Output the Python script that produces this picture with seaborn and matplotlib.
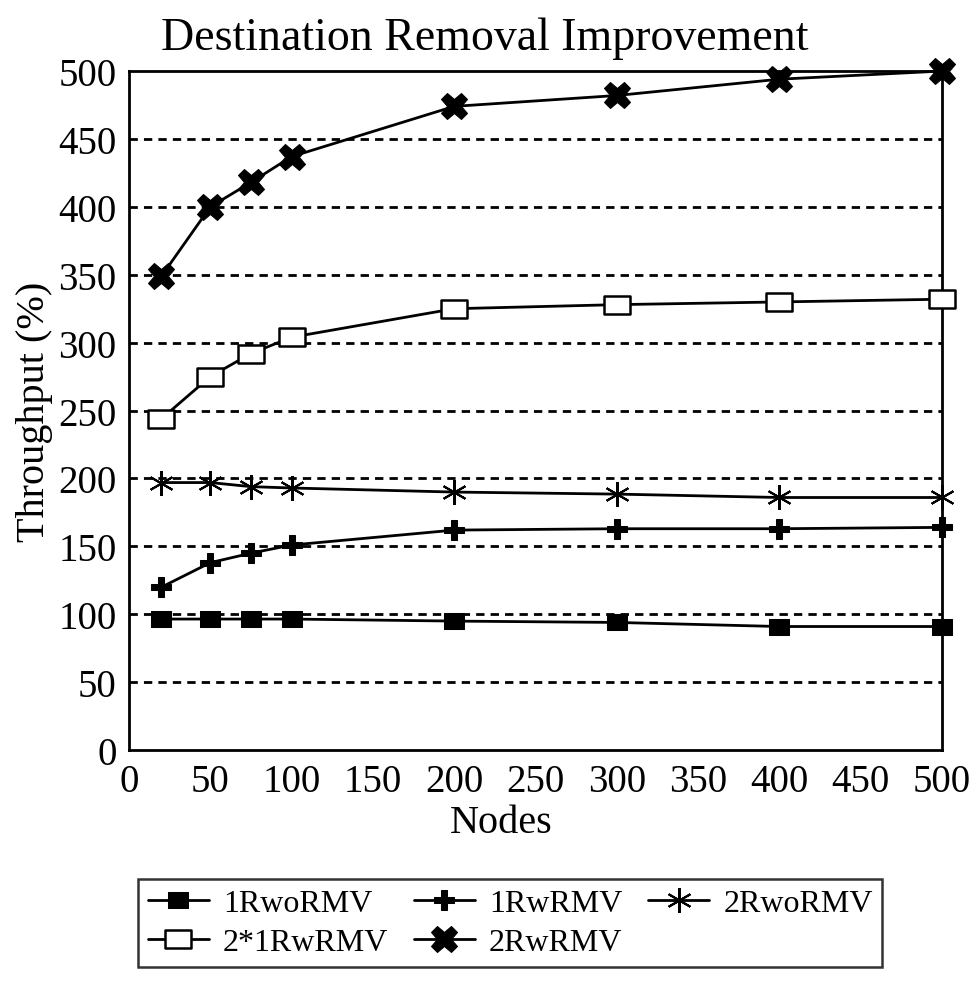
import numpy as np
import pandas as pd
import seaborn as sns
import matplotlib.pyplot as plt
from matplotlib.path import Path

nodes = [20, 50, 75, 100, 200, 300, 400, 500]
r1_wo_rmv = [96.5, 96.5, 96.5, 96.5, 95, 94, 91, 91]
r1_w_rmv = [120, 138, 145, 151, 162, 163, 163, 164]
r2_wo_rmv = [197, 197, 194, 193, 190, 188.5, 186, 186]
r1_w_rmv_x2 = [244, 275, 292, 304, 325, 328, 330, 332]
r2_w_rmv = [349, 400, 418, 437, 474, 482, 494, 500]

series_names = ['1RwoRMV', '1RwRMV', '2RwoRMV', '2*1RwRMV', '2RwRMV']
series_values = [r1_wo_rmv, r1_w_rmv, r2_wo_rmv, r1_w_rmv_x2, r2_w_rmv]
x_ticks = [0, 50, 100, 150, 200, 250, 300, 350, 400, 450, 500]
y_ticks = [0, 50, 100, 150, 200, 250, 300, 350, 400, 450, 500]

sns.set_style('white')
plt.rcParams['font.family'] = ['Liberation Serif', 'DejaVu Serif']
plt.rcParams['text.color'] = 'black'
plt.rcParams['axes.labelcolor'] = 'black'

# wide rectangle marker for the square symbols
rect = Path([(-1.35, -1), (1.35, -1), (1.35, 1), (-1.35, 1), (-1.35, -1)],
            [Path.MOVETO, Path.LINETO, Path.LINETO, Path.LINETO, Path.CLOSEPOLY])

styles = {
    '1RwoRMV': dict(marker=rect, markersize=15, markerfacecolor='black'),
    '1RwRMV': dict(marker='P', markersize=14, markerfacecolor='black'),
    '2RwoRMV': dict(marker=(6, 2, 0), markersize=18, markerfacecolor='black', markeredgewidth=1.5),
    '2*1RwRMV': dict(marker=rect, markersize=18, markerfacecolor='white', markeredgewidth=1.8),
    '2RwRMV': dict(marker='X', markersize=19, markerfacecolor='black'),
}

fig = plt.figure(figsize=(9.74, 9.87), dpi=100)
ax = fig.add_axes([0.1324, 0.239, 0.8347, 0.688])

for name, vals in zip(series_names, series_values):
    df = pd.DataFrame({'Nodes': nodes, 'Throughput': vals})
    sns.lineplot(x='Nodes', y='Throughput', data=df, ax=ax, color='black',
                 linewidth=2, markeredgecolor='black', label=name, clip_on=False,
                 zorder=3, **styles[name])

ax.set_xlim(0, 500)
ax.set_ylim(0, 500)
ax.set_xticks(x_ticks)
ax.set_yticks(y_ticks)
ax.tick_params(axis='both', direction='out', length=7, width=1.8, labelsize=28, pad=2, colors='black')
for y in y_ticks[1:-1]:
    ax.axhline(y, color='black', linestyle=(0, (3, 2.2)), linewidth=2, zorder=0)
for sp in ax.spines.values():
    sp.set_linewidth(2)
    sp.set_color('black')

fig.text(0.498, 0.961, 'Destination Removal Improvement', fontsize=33, ha='center', va='center')
ax.set_xlabel('Nodes', fontsize=29, labelpad=0)
ax.xaxis.set_label_coords(0.458, -0.08)
ax.set_ylabel('Throughput (%)', fontsize=29, labelpad=4)

handles, labels = ax.get_legend_handles_labels()
ax.get_legend().remove()
# matplotlib fills legend columns first; reorder so entries read row by row
order = [0, 3, 1, 4, 2]
leg = fig.legend([handles[i] for i in order], [labels[i] for i in order], ncol=3,
                 loc='center', bbox_to_anchor=(0.524, 0.064),
                 fontsize=23, frameon=True, fancybox=False, edgecolor='black',
                 handlelength=1.9, handletextpad=0.45, columnspacing=0.8,
                 labelspacing=0.3, borderpad=0.3)
leg.get_frame().set_linewidth(1.8)

plt.savefig('out.png', dpi=100)
